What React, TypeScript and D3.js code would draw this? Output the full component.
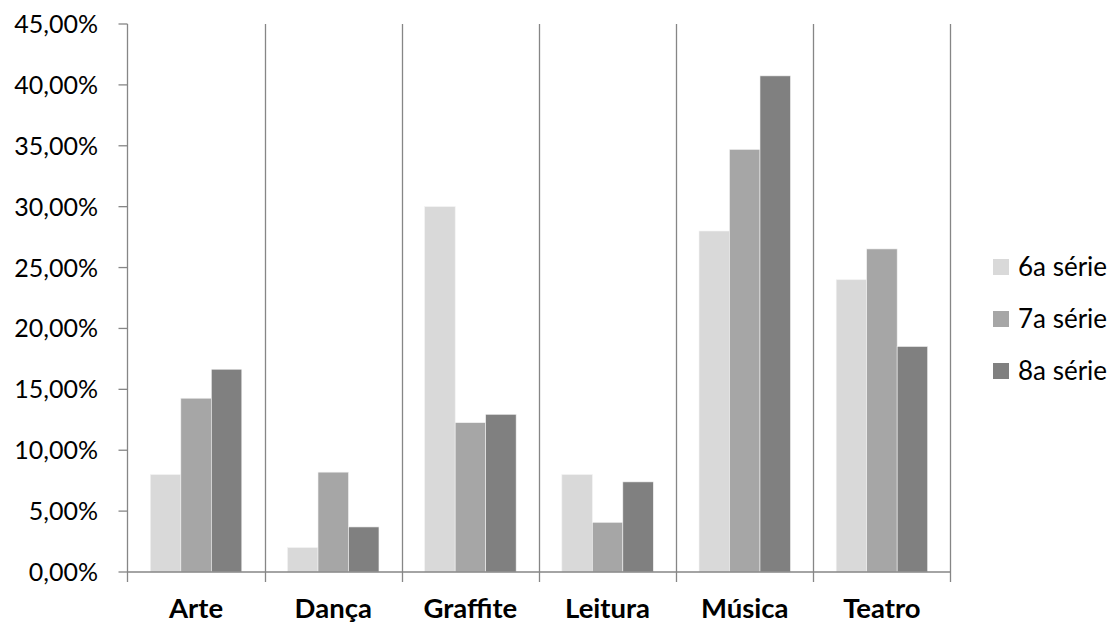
import React from "react";
import * as d3 from "d3";

const categories = ["Arte", "Dança", "Graffite", "Leitura", "Música", "Teatro"];
const seriesNames = ["6a série", "7a série", "8a série"];
const serie6 = [8.0, 2.0, 30.0, 8.0, 28.0, 24.0];
const serie7 = [14.27, 8.2, 12.26, 4.08, 34.7, 26.53];
const serie8 = [16.65, 3.7, 12.95, 7.4, 40.74, 18.52];
const yTicks = [0, 5, 10, 15, 20, 25, 30, 35, 40, 45];
const colors = ["#d9d9d9", "#a6a6a6", "#808080"];

const W = 1115;
const H = 624;
const left = 127.5;
const right = 950.5;
const top = 24;
const bottom = 572;
const font = "Lato, 'Open Sans', sans-serif";

export default function App() {
  const series = [serie6, serie7, serie8];
  const x = d3.scaleBand<string>().domain(categories).range([left, right]).paddingInner(0).paddingOuter(0);
  const y = d3.scaleLinear().domain([0, 45]).range([bottom, top]);
  const bw = x.bandwidth();
  const groupW = bw / (3 + 1.5);
  const gap = (bw - groupW * 3) / 2;
  const grid = "#868686";
  const fmt = (v: number) => v.toFixed(2).replace(".", ",") + "%";

  return (
    <div style={{ position: "absolute", left: 0, top: 0, width: W, height: H, background: "#fff" }}>
      <svg width={W} height={H} style={{ display: "block" }}>
        {categories.map((c, i) => {
          const xx = Math.round((x(c) as number) + bw) + 0.5;
          return <line key={"g" + i} x1={xx} x2={xx} y1={top} y2={bottom + 10} stroke={grid} strokeWidth={1.3} />;
        })}
        {categories.map((c, ci) => (
          <g key={"c" + ci}>
            {series.map((s, si) => {
              const x0 = (x(c) as number) + gap + si * groupW;
              return (
                <rect
                  key={si}
                  x={x0}
                  y={y(s[ci])}
                  width={groupW}
                  height={bottom - y(s[ci])}
                  fill={colors[si]}
                  stroke="#f2f2f2"
                  strokeWidth={0.6}
                />
              );
            })}
          </g>
        ))}
        <line x1={left} x2={left} y1={top} y2={bottom + 10} stroke={grid} strokeWidth={1.3} />
        {yTicks.map((t) => (
          <g key={"t" + t}>
            <line x1={left - 9} x2={left} y1={y(t)} y2={y(t)} stroke={grid} strokeWidth={1.3} />
            <text x={98} y={y(t)} dy="0.36em" textAnchor="end" fontFamily={font} fontSize={25} fill="#000">
              {fmt(t)}
            </text>
          </g>
        ))}
        <line x1={left} x2={right} y1={bottom} y2={bottom} stroke={grid} strokeWidth={1.3} />
        {categories.map((c, i) => (
          <text
            key={"l" + i}
            x={(x(c) as number) + bw / 2}
            y={618}
            textAnchor="middle"
            fontFamily={font}
            fontWeight="bold"
            fontSize={27.5}
            fill="#000"
          >
            {c}
          </text>
        ))}
        {seriesNames.map((n, i) => {
          const cy = 267 + i * 52;
          return (
            <g key={"lg" + i}>
              <rect x={993} y={cy - 8} width={16} height={16} fill={colors[i]} />
              <text x={1018} y={cy} dy="0.36em" fontFamily={font} fontSize={26} fill="#000">
                {n}
              </text>
            </g>
          );
        })}
      </svg>
    </div>
  );
}
